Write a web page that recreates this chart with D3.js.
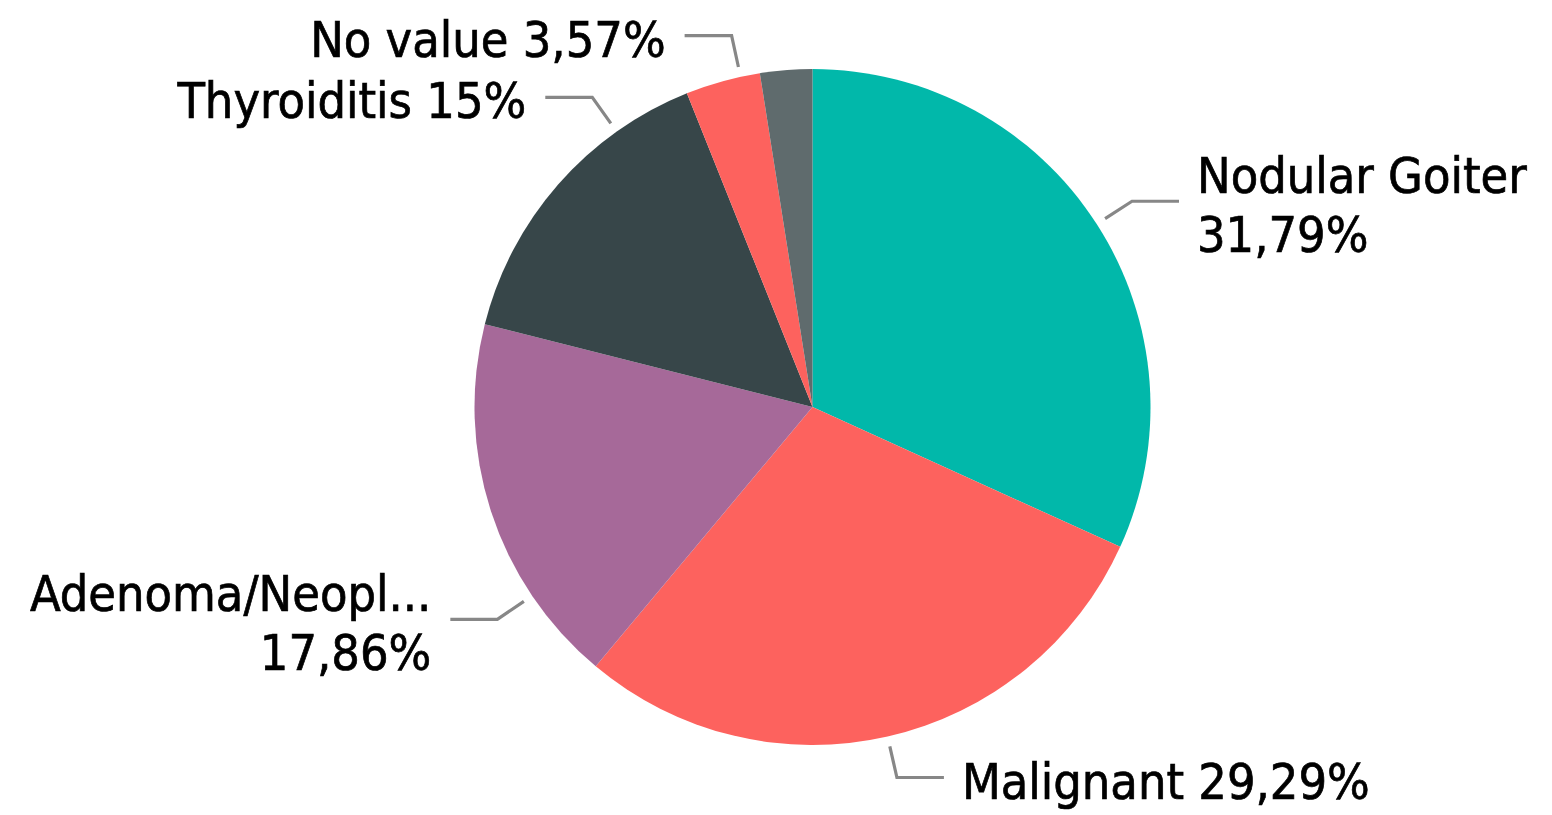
<!DOCTYPE html>
<html>
<head>
<meta charset="utf-8">
<script src="https://cdn.jsdelivr.net/npm/d3@7"></script>
<style>
  html, body { margin: 0; padding: 0; background: #ffffff; }
  svg { display: block; }
  text { font-family: "DejaVu Sans Condensed", "DejaVu Sans", sans-serif; }
</style>
</head>
<body>
<svg id="chart" width="1552" height="815"></svg>
<script>
// ---- data ----
const categories = ["Nodular Goiter", "Malignant", "Adenoma/Neopl...", "Thyroiditis", "No value", "Other"];
const values = [31.79, 29.29, 17.86, 15, 3.57, 2.49];
const valueLabels = ["31,79%", "29,29%", "17,86%", "15%", "3,57%", ""];
const showLabel = [true, true, true, true, true, false];
const colors = ["#01B8AA", "#FD625E", "#A66999", "#374649", "#FD625E", "#5F6B6D"];
// label text lines (Power BI wraps some labels)
const labelLines = [
  ["Nodular Goiter", "31,79%"],
  ["Malignant 29,29%"],
  ["Adenoma/Neopl...", "17,86%"],
  ["Thyroiditis 15%"],
  ["No value 3,57%"],
  []
];

// ---- layout ----
const W = 1552, H = 815;
const cx = 812.5, cy = 407, R = 338;
const leaderShiftDeg = [0, 0, -16, 13.4, 3.1, 0]; // leader anchor adjustments
const fontSize = 50, lineH = 59;

const svg = d3.select("#chart");
const g = svg.append("g").attr("transform", `translate(${cx},${cy})`);

const data = categories.map((c, i) => ({ name: c, value: values[i], i }));
const pie = d3.pie().sort(null).value(d => d.value).startAngle(0).endAngle(2 * Math.PI);
const arcs = pie(data);
const arc = d3.arc().innerRadius(0).outerRadius(R);

g.selectAll("path.slice")
  .data(arcs)
  .join("path")
  .attr("class", "slice")
  .attr("d", arc)
  .attr("fill", d => colors[d.data.i]);

function pt(angle, r) {
  return [Math.sin(angle) * r, -Math.cos(angle) * r];
}

const labeled = arcs.filter(d => showLabel[d.data.i]);
labeled.forEach(d => {
  const i = d.data.i;
  const a = (d.startAngle + d.endAngle) / 2 + leaderShiftDeg[i] * Math.PI / 180;
  const p0 = pt(a, R + 10);
  const p1 = pt(a, R + 42);
  const right = Math.sin(a) >= 0;
  const p2 = [p1[0] + (right ? 47 : -47), p1[1]];
  g.append("polyline")
    .attr("points", [p0, p1, p2].map(p => p.join(",")).join(" "))
    .attr("fill", "none")
    .attr("stroke", "#878787")
    .attr("stroke-width", 3.2);
  const lines = labelLines[i];
  const tx = p2[0] + (right ? 18 : -19);
  const t = g.append("text")
    .attr("x", tx)
    .attr("text-anchor", right ? "start" : "end")
    .attr("font-size", fontSize)
    .attr("fill", "#000000")
    .attr("stroke", "#000000")
    .attr("stroke-width", 0.7);
  const firstBase = p2[1] + 21 - (lines.length - 1) * lineH / 2;
  lines.forEach((ln, k) => {
    t.append("tspan")
      .attr("x", tx)
      .attr("y", firstBase + k * lineH)
      .text(ln);
  });
});
</script>
</body>
</html>
